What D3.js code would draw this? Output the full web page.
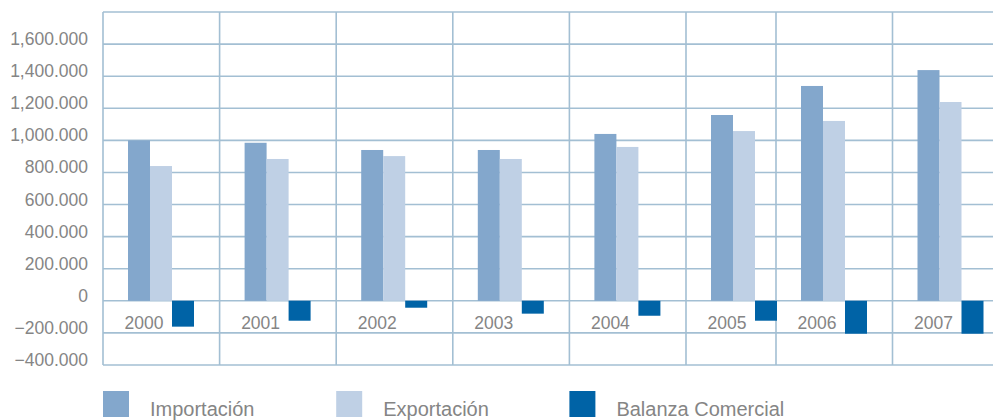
<!DOCTYPE html>
<html>
<head>
<meta charset="utf-8">
<script src="https://cdn.jsdelivr.net/npm/d3@7"></script>
<style>
  body { margin: 0; background: #fff; }
  svg { display: block; font-family: "Liberation Sans", Arial, sans-serif; }
</style>
</head>
<body>
<svg id="chart"></svg>
<script>
const years = ["2000", "2001", "2002", "2003", "2004", "2005", "2006", "2007"];
const importacion = [1000000, 985000, 940000, 940000, 1040000, 1158000, 1339000, 1438000];
const exportacion = [840000, 884000, 902000, 884000, 959000, 1058000, 1121000, 1239000];
const balanza = [-161000, -124000, -43000, -80000, -93000, -124000, -205000, -205000];
const yTicks = [-400000, -200000, 0, 200000, 400000, 600000, 800000, 1000000, 1200000, 1400000, 1600000];
const seriesNames = ["Importación", "Exportación", "Balanza Comercial"];
const colors = ["#83a7cc", "#bfd0e5", "#0063a6"];

const width = 993;
const height = 420;
const gridColor = "#a3bfd3";
const textColor = "#858585";

const svg = d3.select("svg#chart")
  .attr("width", width)
  .attr("height", height);

// column boundaries (the 2005 column is drawn narrower in the original)
const col = d3.scaleLinear()
  .domain([0, 5, 6, 8])
  .range([103, 686, 776, 1009]);

const y = d3.scaleLinear()
  .domain([-400000, 1800000])
  .range([365, 12]);

const barW = 22;
const groupOffset = 25;

function fmt(v) {
  if (v === 0) return "0";
  return d3.format(",")(v / 1000) + ".000";
}

// horizontal grid
svg.append("g")
  .selectAll("line")
  .data(yTicks.concat([1800000]))
  .enter()
  .append("line")
  .attr("x1", col(0))
  .attr("x2", width)
  .attr("y1", d => y(d))
  .attr("y2", d => y(d))
  .style("stroke", gridColor)
  .style("stroke-width", 1.6);

// vertical grid
svg.append("g")
  .selectAll("line")
  .data(d3.range(years.length))
  .enter()
  .append("line")
  .attr("x1", d => col(d))
  .attr("x2", d => col(d))
  .attr("y1", y(1800000))
  .attr("y2", y(-400000))
  .style("stroke", gridColor)
  .style("stroke-width", 1.6);

// y labels
svg.append("g")
  .selectAll("text")
  .data(yTicks)
  .enter()
  .append("text")
  .attr("x", 88)
  .attr("y", d => y(d) + 1)
  .attr("text-anchor", "end")
  .style("font-size", "17.5px")
  .style("fill", textColor)
  .text(fmt);

// year labels
svg.append("g")
  .selectAll("text")
  .data(years)
  .enter()
  .append("text")
  .attr("x", (d, i) => col(i) + 41)
  .attr("y", y(0) + 28)
  .attr("text-anchor", "middle")
  .style("font-size", "17.5px")
  .style("fill", textColor)
  .text(d => d);

// bars
const series = [importacion, exportacion, balanza];
series.forEach(function(values, s) {
  svg.append("g")
    .selectAll("rect")
    .data(values)
    .enter()
    .append("rect")
    .attr("x", (d, i) => col(i) + groupOffset + s * barW)
    .attr("y", d => y(Math.max(0, d)))
    .attr("width", barW)
    .attr("height", d => Math.abs(y(d) - y(0)))
    .style("fill", colors[s]);
});

// legend
const legend = svg.append("g")
  .selectAll("g")
  .data(seriesNames)
  .enter()
  .append("g")
  .attr("transform", (d, i) => "translate(" + col(i * 2) + ", 391)");

legend.append("rect")
  .attr("width", 26)
  .attr("height", 26)
  .style("fill", (d, i) => colors[i]);

legend.append("text")
  .attr("x", 47)
  .attr("y", 25)
  .style("font-size", "20px")
  .style("fill", textColor)
  .text(d => d);
</script>
</body>
</html>
